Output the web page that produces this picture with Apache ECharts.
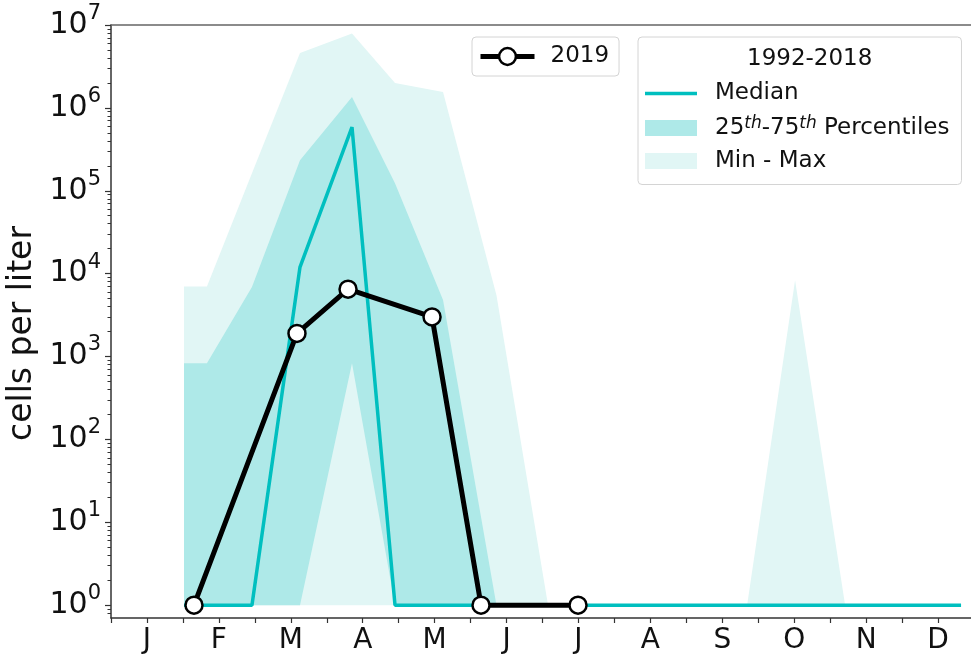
<!DOCTYPE html>
<html>
<head>
<meta charset="utf-8">
<script src="https://cdn.jsdelivr.net/npm/echarts@6/dist/echarts.min.js"></script>
<style>
  html, body { margin: 0; padding: 0; background: #ffffff; }
  #chart { width: 971px; height: 657px; }
</style>
</head>
<body>
<div id="chart"></div>
<script>
// Month initials along the x axis (value 1 = mid-January)
const monthLabels = ['J', 'F', 'M', 'A', 'M', 'J', 'J', 'A', 'S', 'O', 'N', 'D'];

// 1992-2018 climatology, sampled at fractional month positions
const climX      = [1.515, 1.834, 2.460, 3.128, 3.851, 4.449, 5.117, 5.860, 6.577, 9.345, 10.012, 10.708, 12.32];
const climMin    = [1, 1, 1, 1, 1, 1, 1, 1, 1, 1, 1, 1, 1];
const climP25    = [1, 1, 1, 1, 830, 1, 1, 1, 1, 1, 1, 1, 1];
const climMedian = [1, 1, 1, 12000, 585000, 1, 1, 1, 1, 1, 1, 1, 1];
const climP75    = [830, 830, 6900, 234000, 1350000, 123000, 4800, 1, 1, 1, 1, 1, 1];
const climMax    = [7000, 7000, 163000, 4600000, 7900000, 2000000, 1550000, 5500, 1, 1, 8300, 1, 1];

// 2019 observations
const obsX    = [1.654, 3.086, 3.796, 4.964, 5.645, 6.994];
const obs2019 = [1, 1900, 6500, 3000, 1, 1];

// Decade ticks on the log axis
const yMajorTicks = [1, 10, 100, 1000, 10000, 100000, 1000000, 10000000];

const FONT = 'DejaVu Sans';
const medianColor = '#00BFBF';
const bandDark = '#AEE9E8';
const bandLight = '#E1F6F5';
const pctName = '25th-75th Percentiles';

const yMinorTicks = [0.8, 0.9];
for (let e = 0; e < 7; e++) {
  for (let m = 2; m <= 9; m++) yMinorTicks.push(m * Math.pow(10, e));
}

const pairs = (xs, ys) => xs.map((x, i) => [x, ys[i]]);

// Filled band between a lower and an upper curve, drawn as one polygon
function bandSeries(name, lower, upper, color, z) {
  return {
    name: name,
    type: 'custom',
    coordinateSystem: 'cartesian2d',
    xAxisIndex: 0,
    yAxisIndex: 0,
    silent: true,
    clip: true,
    z: z,
    itemStyle: { color: color },
    data: [[climX[0], upper[0]]],
    renderItem: (params, api) => {
      const pts = [];
      for (let i = 0; i < climX.length; i++) pts.push(api.coord([climX[i], upper[i]]));
      for (let i = climX.length - 1; i >= 0; i--) pts.push(api.coord([climX[i], lower[i]]));
      return { type: 'polygon', shape: { points: pts }, style: { fill: color } };
    }
  };
}

const chart = echarts.init(document.getElementById('chart'), null, { renderer: 'canvas' });

const yBase = {
  type: 'log',
  logBase: 10,
  min: 0.7,
  max: 1e7,
  position: 'left',
  splitLine: { show: false },
  axisLine: { show: false }
};

const option = {
  animation: false,
  backgroundColor: '#ffffff',
  grid: { left: 111, top: 25, width: 863, height: 593, containLabel: false, outerBoundsMode: 'none' },
  xAxis: [
    {
      type: 'value',
      min: 0.5,
      max: 12.5,
      interval: 0.5,
      position: 'bottom',
      splitLine: { show: false },
      axisLine: { show: true, onZero: false, lineStyle: { color: '#333', width: 1.5 } },
      axisTick: { show: true, length: 5, lineStyle: { color: '#333', width: 1.2 } },
      axisLabel: {
        show: true,
        margin: 9,
        fontFamily: FONT,
        fontSize: 28,
        color: '#111',
        formatter: v => (Math.abs(v - Math.round(v)) < 1e-6 && v >= 1 && v <= 12) ? monthLabels[Math.round(v) - 1] : ''
      }
    },
    {
      type: 'value',
      min: 0.5,
      max: 12.5,
      position: 'top',
      splitLine: { show: false },
      axisLine: { show: true, onZero: false, lineStyle: { color: '#666', width: 1.5 } },
      axisTick: { show: false },
      axisLabel: { show: false }
    }
  ],
  yAxis: [
    Object.assign({}, yBase, {
      axisLine: { show: true, onZero: false, lineStyle: { color: '#333', width: 1.5 } },
      axisTick: { show: true, length: 6, customValues: yMajorTicks, lineStyle: { color: '#333', width: 1.2 } },
      axisLabel: {
        show: true,
        margin: 10,
        customValues: yMajorTicks,
        formatter: v => '{b|10}{s|' + Math.round(Math.log10(v)) + '}',
        rich: {
          b: { fontFamily: FONT, fontSize: 30, color: '#111', lineHeight: 44 },
          s: { fontFamily: FONT, fontSize: 21, color: '#111', lineHeight: 21, verticalAlign: 'top' }
        }
      },
      name: 'cells per liter',
      nameLocation: 'middle',
      nameGap: 66,
      nameTextStyle: { fontFamily: FONT, fontSize: 33, color: '#111', padding: [0, 24, 0, 0] }
    }),
    Object.assign({}, yBase, {
      axisTick: { show: true, length: 3.5, customValues: yMinorTicks, lineStyle: { color: '#333', width: 1 } },
      axisLabel: { show: false }
    })
  ],
  legend: [
    {
      data: ['2019'],
      left: 472,
      top: 37,
      orient: 'horizontal',
      selectedMode: false,
      padding: [8, 10, 8, 6],
      itemWidth: 54,
      itemHeight: 21,
      borderColor: '#d4d4d4',
      borderWidth: 1,
      borderRadius: 4,
      backgroundColor: 'rgba(255,255,255,0.85)',
      lineStyle: { width: 5, color: '#000' },
      itemStyle: { borderWidth: 2.5, borderColor: '#000', color: '#fff' },
      textStyle: { fontFamily: FONT, fontSize: 23, color: '#111', lineHeight: 23, padding: [0, 0, 0, 11] }
    },
    {
      data: [
        { name: 'Median', icon: 'path://M0,0 L52,0 L52,3.5 L0,3.5 Z' },
        { name: pctName, icon: 'rect' },
        { name: 'Min - Max', icon: 'rect' }
      ],
      left: 638,
      top: 37,
      orient: 'vertical',
      selectedMode: false,
      padding: [45, 12, 12, 7],
      itemGap: 10,
      itemWidth: 52,
      itemHeight: 16,
      borderColor: '#d4d4d4',
      borderWidth: 1,
      borderRadius: 4,
      backgroundColor: 'rgba(255,255,255,0.85)',
      formatter: name => name === pctName
        ? '{t|25}{u|th}{t|-75}{u|th}{t| Percentiles}'
        : '{t|' + name + '}',
      textStyle: {
        fontFamily: FONT, fontSize: 23, color: '#111', padding: [0, 0, 0, 13],
        rich: {
          t: { fontFamily: FONT, fontSize: 23, color: '#111', lineHeight: 26 },
          u: { fontFamily: FONT, fontSize: 17, color: '#111', lineHeight: 17, fontStyle: 'italic', verticalAlign: 'top' }
        }
      }
    }
  ],
  graphic: [
    {
      type: 'text',
      left: 802 - 55,
      top: 48,
      z: 100,
      style: { text: '1992-2018', fontFamily: FONT, fontSize: 23, fill: '#111' }
    }
  ],
  series: [
    bandSeries('Min - Max', climMin, climMax, bandLight, 1),
    bandSeries(pctName, climP25, climP75, bandDark, 2),
    {
      name: 'Median', type: 'line', data: pairs(climX, climMedian),
      symbol: 'none', silent: true,
      itemStyle: { color: medianColor },
      lineStyle: { color: medianColor, width: 3.5 }, z: 3
    },
    {
      name: '2019', type: 'line', data: pairs(obsX, obs2019),
      symbol: 'circle', symbolSize: 17, showSymbol: true, silent: true,
      itemStyle: { color: '#ffffff', borderColor: '#000000', borderWidth: 2.5 },
      lineStyle: { color: '#000000', width: 5 }, z: 4
    }
  ]
};

chart.setOption(option);
</script>
</body>
</html>
